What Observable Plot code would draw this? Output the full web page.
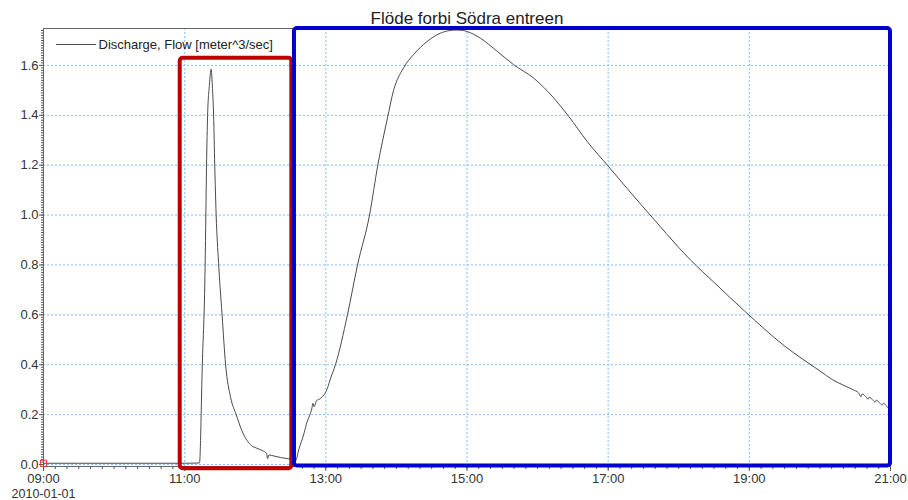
<!DOCTYPE html>
<html><head><meta charset="utf-8">
<script src="https://cdn.jsdelivr.net/npm/d3@7"></script>
<script src="https://cdn.jsdelivr.net/npm/@observablehq/plot@0.6"></script>
<style>body{margin:0;background:#fff;}</style>
</head><body><div id="chart"></div>
<script>
const title = "Flöde forbi Södra entreen";
const seriesName = "Discharge, Flow [meter^3/sec]";
const dateLabel = "2010-01-01";
const day = "2010-01-01";

const times = [
  "09:00:00","10:00:00","11:00:00","11:12:36","11:15:00","11:17:24","11:18:00","11:18:36","11:19:30","11:21:00",
  "11:22:30","11:23:30","11:24:36","11:25:34","11:26:46","11:28:48","11:31:48","11:34:48","11:39:00","11:43:48",
  "11:48:36","11:51:00","11:53:06","11:57:00","12:01:00","12:06:00","12:09:36","12:10:30","12:11:30","12:16:00",
  "12:21:36","12:27:00","12:32:24","12:34:12","12:37:00","12:41:24","12:44:00","12:46:48","12:48:00","12:49:00",
  "12:50:00","12:52:00","12:55:12","13:01:12","13:04:00","13:08:10","13:18:22","13:26:56","13:37:08","13:44:10",
  "13:52:12","13:57:36","14:06:00","14:14:42","14:26:06","14:37:12","14:45:36","14:51:00","14:57:00","15:00:00",
  "15:11:24","15:25:48","15:39:36","15:56:42","16:13:48","16:26:24","16:42:00","17:00:36","17:16:12","17:38:42",
  "18:00:00","18:10:00","18:30:00","18:56:00","19:30:00","20:00:00","20:11:24","20:20:00","20:28:00","20:33:00",
  "20:35:00","20:36:00","20:39:00","20:41:00","20:42:00","20:45:00","20:47:00","20:48:00","20:51:00","20:53:00",
  "20:54:00","20:57:00","20:59:00","21:00:00"
];
const flow = [
  0.005,0.005,0.005,0.006,0.40,0.80,1.00,1.20,1.40,1.52,
  1.585,1.52,1.40,1.20,1.00,0.81,0.60,0.40,0.27,0.20,
  0.136,0.112,0.096,0.075,0.066,0.056,0.045,0.024,0.038,0.034,
  0.028,0.024,0.018,0.014,0.06,0.124,0.17,0.204,0.222,0.245,
  0.232,0.255,0.264,0.304,0.345,0.40,0.60,0.80,1.00,1.20,
  1.385,1.50,1.59,1.644,1.696,1.729,1.740,1.742,1.740,1.736,
  1.709,1.656,1.603,1.549,1.469,1.396,1.296,1.193,1.106,0.984,
  0.87,0.82,0.73,0.615,0.475,0.375,0.338,0.318,0.300,0.286,
  0.272,0.283,0.272,0.262,0.270,0.258,0.250,0.258,0.246,0.238,
  0.246,0.232,0.222,0.225
];

const xTickTimes = ["09:00","11:00","13:00","15:00","17:00","19:00","21:00"];
const yTicks = [0, 0.2, 0.4, 0.6, 0.8, 1.0, 1.2, 1.4, 1.6];

// highlight boxes
const boxStart = ["10:56:13", "12:33:20"];
const boxEnd   = ["12:31:05", "21:00:00"];
const boxLow   = [-0.017, -0.006];
const boxHigh  = [1.629, 1.748];
const boxColor = ["#c00000", "#0000c8"];

// start marker
const markerTime = ["09:00:00"];
const markerValue = [0.005];

const parseT = d3.utcParse("%Y-%m-%d %H:%M:%S");
const T = s => parseT(day + " " + (s.length === 5 ? s + ":00" : s));

const data = times.map((t, i) => ({t: T(t), v: flow[i]}));
const boxes = boxStart.map((s, i) => ({x1: T(s), x2: T(boxEnd[i]), y1: boxLow[i], y2: boxHigh[i], c: boxColor[i]}));
const markers = markerTime.map((t, i) => ({t: T(t), v: markerValue[i]}));
const xMajor = xTickTimes.map(T);
const xMinor = d3.utcMinute.every(10).range(T("09:00"), d3.utcMinute.offset(T("21:00"), 1));
const yMinor = d3.range(0, 175).map(i => i / 100);
const x0 = T("09:00"), x1 = T("21:00");

const fmt = d3.utcFormat("%H:%M");
const FF = "'Liberation Sans', Arial, sans-serif";

const plot = Plot.plot({
  width: 908,
  height: 500,
  marginLeft: 43,
  marginRight: 18,
  marginTop: 28,
  marginBottom: 34,
  style: {fontFamily: FF, fontSize: "13px", color: "#333", background: "#fff", overflow: "visible"},
  x: {type: "utc", domain: [x0, x1], label: null},
  y: {domain: [-0.008, 1.748], label: null},
  marks: [
    Plot.gridX(xMajor, {stroke: "#7fbfff", strokeOpacity: 1, strokeDasharray: "2,2"}),
    Plot.gridY(yTicks, {stroke: "#7fbfff", strokeOpacity: 1, strokeDasharray: "2,2"}),
    Plot.frame({stroke: "#666"}),
    Plot.axisY(yMinor, {tickSize: 2, tickFormat: () => "", stroke: "#555"}),
    Plot.axisY(yTicks, {tickSize: 4, tickPadding: 1, tickFormat: d => d.toFixed(1), stroke: "#555", fill: "#333", fontSize: 13}),
    Plot.axisX(xMinor, {tickSize: 3, tickFormat: () => "", stroke: "#555"}),
    Plot.axisX(xMajor, {tickSize: 5, tickPadding: 2, tickFormat: fmt, stroke: "#555", fill: "#333", fontSize: 13}),
    Plot.line(data, {x: "t", y: "v", stroke: "#4a4a4a", strokeWidth: 1, curve: "monotone-x"}),
    Plot.dot(markers, {x: "t", y: "v", symbol: "square", r: 3.5, stroke: "#e03030", fill: "none", strokeWidth: 1}),
    Plot.rect(boxes, {x1: "x1", x2: "x2", y1: "y1", y2: "y2", stroke: "c", fill: "none", strokeWidth: 4, rx: 3, clip: false}),
    Plot.text([dateLabel], {x: () => x0, frameAnchor: "bottom", lineAnchor: "middle", dy: 27.3, text: d => d, fill: "#333", fontSize: 12.5}),
    Plot.text([title], {frameAnchor: "top", lineAnchor: "middle", dy: -10, text: d => d, fill: "#222", fontSize: 17}),
    Plot.text([seriesName], {frameAnchor: "top-left", lineAnchor: "middle", textAnchor: "start", dx: 55, dy: 16, text: d => d, fill: "#222", fontSize: 13})
  ]
});

// legend swatch line
const svg = d3.select(plot);
svg.append("line").attr("x1", 56).attr("x2", 96).attr("y1", 44.5).attr("y2", 44.5)
  .attr("stroke", "#4a4a4a").attr("stroke-width", 1);

document.getElementById("chart").appendChild(plot);
</script>
</body></html>
